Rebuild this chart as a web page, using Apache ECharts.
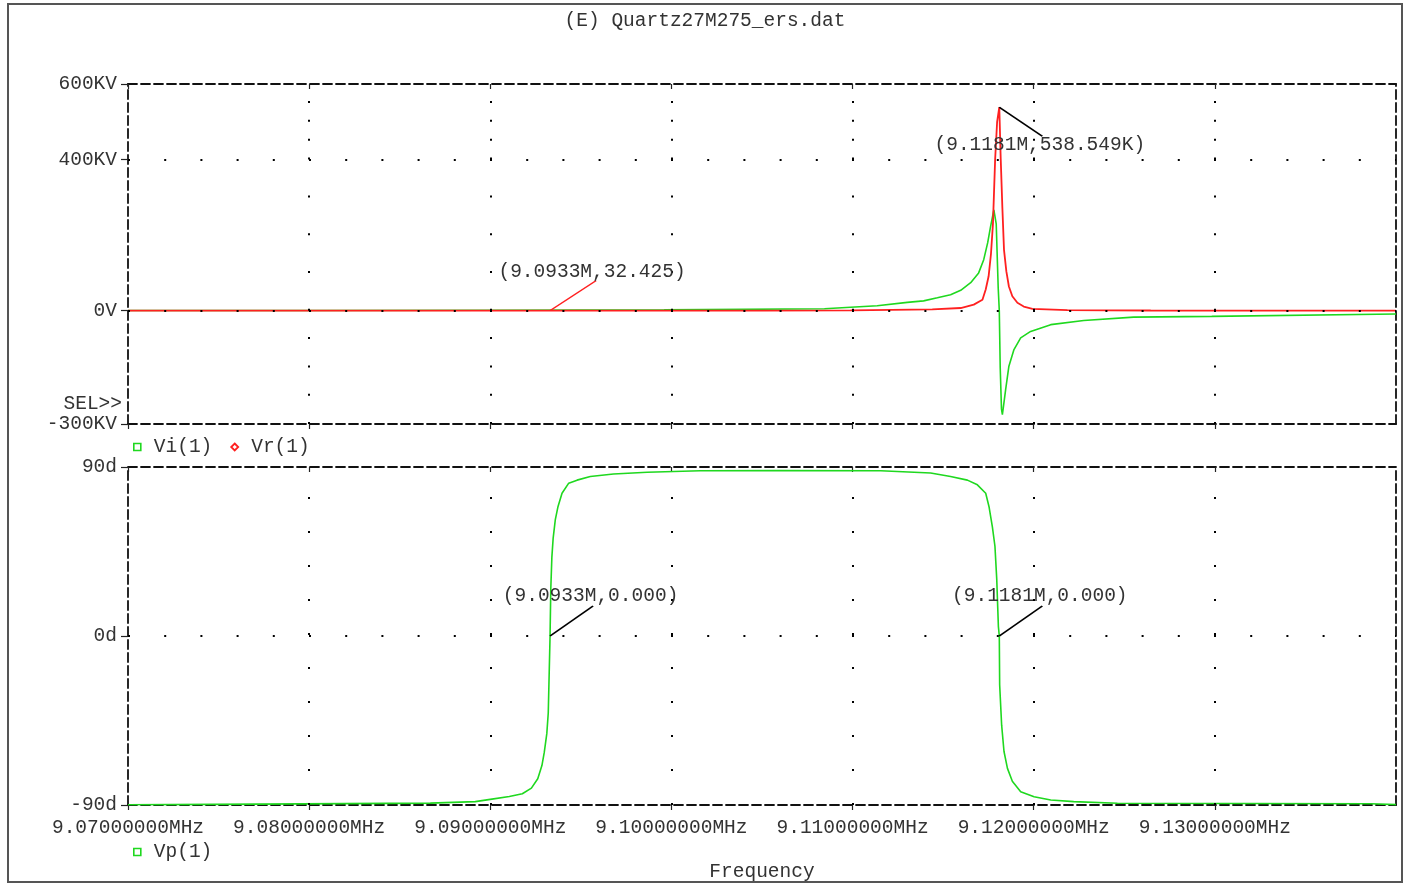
<!DOCTYPE html>
<html>
<head>
<meta charset="utf-8">
<script src="https://cdn.jsdelivr.net/npm/echarts@6/dist/echarts.min.js"></script>
<style>html,body{margin:0;padding:0;background:#fff}#c{width:1410px;height:883px}</style>
</head>
<body>
<div id="c"></div>
<script>
// ---------- data (frequency in MHz) ----------
const viFreq = [9.07000, 9.08000, 9.09000, 9.09960, 9.09967, 9.10845, 9.10856, 9.10989, 9.11136, 9.11302, 9.11392, 9.11468, 9.11541, 9.11597, 9.11652, 9.11696, 9.11724, 9.11746, 9.11762, 9.11780, 9.11793, 9.11804, 9.11810, 9.11815, 9.11822, 9.11827, 9.11834, 9.11845, 9.11863, 9.11891, 9.11928, 9.11983, 9.12094, 9.12276, 9.12552, 9.12983, 9.12989, 9.14000];
const viVolt = [300, 600, 1200, 2000, 4500, 5000, 7500, 9000, 13000, 22000, 26000, 34000, 42000, 54000, 74000, 100000, 135000, 180000, 223000, 267000, 230000, 60000, 0, -150000, -260000, -275000, -250000, -209000, -147000, -103000, -72000, -55000, -37000, -26000, -17000, -15000, -10000, -9000];

const vrFreq = [9.07000, 9.08000, 9.09000, 9.09330, 9.10000, 9.10500, 9.10989, 9.11440, 9.11597, 9.11669, 9.11717, 9.11735, 9.11751, 9.11764, 9.11775, 9.11787, 9.11798, 9.11810, 9.11818, 9.11827, 9.11836, 9.11849, 9.11863, 9.11882, 9.11910, 9.11945, 9.11993, 9.12186, 9.12646, 9.14000];
const vrVolt = [0, 5, 15, 32.425, 120, 300, 800, 3500, 7000, 16000, 29000, 56000, 91000, 150000, 230000, 400000, 500000, 538549, 400000, 272000, 161000, 104000, 64000, 38000, 21000, 11000, 4500, 1500, 500, 200];

const vpFreq = [9.07000, 9.07243, 9.07254, 9.08669, 9.08917, 9.09000, 9.09105, 9.09177, 9.09227, 9.09262, 9.09285, 9.09298, 9.09312, 9.09320, 9.09330, 9.09334, 9.09340, 9.09347, 9.09359, 9.09374, 9.09396, 9.09433, 9.09479, 9.09552, 9.09680, 9.09866, 9.10160, 9.10602, 9.11155, 9.11431, 9.11541, 9.11634, 9.11689, 9.11735, 9.11753, 9.11772, 9.11786, 9.11796, 9.11805, 9.11810, 9.11812, 9.11823, 9.11836, 9.11855, 9.11882, 9.11928, 9.12002, 9.12094, 9.12221, 9.12462, 9.13862, 9.13873, 9.14000];
const vpDeg = [-89.9, -89.8, -89.3, -89.0, -88.2, -87.0, -85.5, -84.0, -81.0, -76.0, -69.0, -62.0, -52.0, -41.0, 0, 25, 42, 52, 62, 69, 76, 81.4, 83, 84.9, 86.3, 87.2, 88.0, 88.1, 88.0, 86.8, 84.9, 83, 80.5, 76, 69, 58, 47.8, 30, 5, 0, -26, -47.5, -61.5, -70.5, -77.4, -82.9, -85.6, -87.3, -88.2, -89.1, -89.3, -89.8, -89.8];

// axis ticks / grid
const xTicks = [9.07, 9.08, 9.09, 9.10, 9.11, 9.12, 9.13];
const xGrid = [9.08, 9.09, 9.10, 9.11, 9.12, 9.13];
const vTicks = [-300000, 0, 400000, 600000];
const vGrid = [0, 400000];
const pTicks = [-90, 0, 90];
const pGrid = [0];

// cursor marks
const cursorTopF = [9.1181, 9.0933];
const cursorTopV = [538549, 32.425];
const cursorTopText = ['(9.1181M,538.549K)', '(9.0933M,32.425)'];
const cursorBotF = [9.0933, 9.1181];
const cursorBotV = [0, 0];
const cursorBotText = ['(9.0933M,0.000)', '(9.1181M,0.000)'];

const titleText = '(E) Quartz27M275_ers.dat';

// ---------- styling ----------
const FONT = '"Liberation Mono", "DejaVu Sans Mono", monospace';
const FS = 19.5;
const TXT = '#333';
const GREEN = '#1fd81f';
const RED = '#ff2020';
const dashed = { color: '#111', width: 1.8, type: [9, 4] };
const zip = (a, b) => a.map((v, i) => [v, b[i]]);

const topVDash = [2, 26.3, 2, 26.3, 2, 26.3, 2, 26.3, 2, 35.8, 2, 35.8, 2, 35.8, 2, 35.8, 2, 16.9, 2, 16.9, 2, 16.9, 2, 16.9];
const dotStyle = (type) => ({ color: '#000', width: 2, type: type, cap: 'butt' });

function xAx(gi, pos, labels) {
  return {
    type: 'value', gridIndex: gi, position: pos, min: 9.07, max: 9.14, interval: 0.01,
    axisLine: { show: true, onZero: false, lineStyle: dashed },
    axisTick: { show: true, length: 5, inside: pos === 'top', customValues: xTicks, lineStyle: { color: '#222', width: 1.2 } },
    axisLabel: labels ? {
      show: true, customValues: xTicks, margin: 13,
      formatter: v => v.toFixed(8) + 'MHz',
      fontFamily: FONT, fontSize: FS, color: TXT
    } : { show: false },
    splitLine: { show: false },
    name: labels ? 'Frequency' : '', nameLocation: 'middle', nameGap: 57,
    nameTextStyle: { fontFamily: FONT, fontSize: FS, color: TXT }
  };
}
function yAx(gi, pos, min, max, ticks, fmt) {
  return {
    type: 'value', gridIndex: gi, position: pos, min: min, max: max,
    axisLine: { show: true, onZero: false, lineStyle: dashed },
    axisTick: { show: !!fmt, length: 7, customValues: ticks, lineStyle: { color: '#222', width: 1.2 } },
    axisLabel: fmt ? { show: true, customValues: ticks, margin: 11, formatter: fmt, fontFamily: FONT, fontSize: FS, color: TXT } : { show: false },
    splitLine: { show: false }
  };
}

const vFmt = v => (v === 0 ? '0V' : (v / 1000) + 'KV');
const pFmt = v => v + 'd';

const markLabel = { show: true, position: 'inside', formatter: '{b}', fontFamily: FONT, fontSize: FS, color: TXT };

const topMarks = cursorTopF.map((f, i) => {
  const down = i === 0;
  return {
    coord: [f, cursorTopV[i]], name: cursorTopText[i],
    symbol: down ? 'path://M0,0L43,29' : 'path://M0,30L46,0',
    symbolSize: down ? [43, 29] : [46, 30],
    symbolOffset: down ? [21.5, 14.5] : [23, -15],
    itemStyle: { color: 'transparent', borderColor: down ? '#000' : RED, borderWidth: 1.6 },
    label: Object.assign({}, markLabel, { offset: down ? [19, 23] : [19, -24] })
  };
});
const botMarks = cursorBotF.map((f, i) => ({
  coord: [f, cursorBotV[i]], name: cursorBotText[i],
  symbol: 'path://M0,30L43,0', symbolSize: [43, 30], symbolOffset: [21.5, -15],
  itemStyle: { color: 'transparent', borderColor: '#000', borderWidth: 1.6 },
  label: Object.assign({}, markLabel, { offset: [19, -25] })
}));

const legendText = { fontFamily: FONT, fontSize: FS, color: TXT, rich: { g: { width: 8 } } };

const chart = echarts.init(document.getElementById('c'), null, { renderer: 'canvas' });
chart.setOption({
  animation: false,
  backgroundColor: '#fff',
  title: {
    text: titleText, left: 'center', top: 6,
    textStyle: { fontFamily: FONT, fontSize: FS, fontWeight: 'normal', color: TXT }
  },
  graphic: [
    { type: 'rect', shape: { x: 8, y: 4, width: 1394, height: 878 }, style: { fill: 'none', stroke: '#555', lineWidth: 2 }, silent: true },
    { type: 'text', style: { text: 'SEL>>', x: 122, y: 404, align: 'right', verticalAlign: 'middle', fontFamily: FONT, fontSize: FS, fill: TXT }, silent: true }
  ],
  legend: [
    {
      left: 128, top: 432, itemWidth: 7, itemHeight: 7, itemGap: 18,
      formatter: n => '{g|}' + n,
      textStyle: legendText,
      data: [
        { name: 'Vi(1)', icon: 'rect', itemStyle: { color: '#fff', borderColor: GREEN, borderWidth: 1.6 } },
        { name: 'Vr(1)', icon: 'diamond', itemStyle: { color: '#fff', borderColor: RED, borderWidth: 1.8 } }
      ]
    },
    {
      left: 128, top: 837, itemWidth: 7, itemHeight: 7,
      formatter: n => '{g|}' + n,
      textStyle: legendText,
      data: [{ name: 'Vp(1)', icon: 'rect', itemStyle: { color: '#fff', borderColor: GREEN, borderWidth: 1.6 } }]
    }
  ],
  grid: [
    { left: 128, top: 84, width: 1268, height: 340 },
    { left: 128, top: 467, width: 1268, height: 340 }
  ],
  xAxis: [xAx(0, 'bottom', false), xAx(0, 'top', false), xAx(1, 'bottom', true), xAx(1, 'top', false)],
  yAxis: [
    yAx(0, 'left', -300000, 600000, vTicks, vFmt), yAx(0, 'right', -300000, 600000, vTicks, null),
    yAx(1, 'left', -90, 90, pTicks, pFmt), yAx(1, 'right', -90, 90, pTicks, null)
  ],
  series: [
    {
      name: 'Vi(1)', type: 'line', xAxisIndex: 0, yAxisIndex: 0, data: zip(viFreq, viVolt),
      showSymbol: false, symbol: 'none', lineStyle: { color: GREEN, width: 1.6 }, itemStyle: { color: GREEN },
      z: 2,
      markLine: {
        silent: true, symbol: ['none', 'none'], label: { show: false }, animation: false,
        emphasis: { disabled: true },
        data: xGrid.map(v => ({ xAxis: v, lineStyle: dotStyle(topVDash) }))
          .concat(vGrid.map(v => ({ yAxis: v, lineStyle: dotStyle([2, 34.2]) })))
      }
    },
    {
      name: 'Vr(1)', type: 'line', xAxisIndex: 0, yAxisIndex: 0, data: zip(vrFreq, vrVolt),
      showSymbol: false, symbol: 'none', lineStyle: { color: RED, width: 1.8 }, itemStyle: { color: RED },
      z: 3,
      markPoint: { silent: true, animation: false, data: topMarks }
    },
    {
      name: 'Vp(1)', type: 'line', xAxisIndex: 2, yAxisIndex: 2, data: zip(vpFreq, vpDeg),
      showSymbol: false, symbol: 'none', lineStyle: { color: GREEN, width: 1.6 }, itemStyle: { color: GREEN },
      z: 3,
      markLine: {
        silent: true, symbol: ['none', 'none'], label: { show: false }, animation: false,
        emphasis: { disabled: true },
        data: xGrid.map(v => ({ xAxis: v, lineStyle: dotStyle([2, 32]) }))
          .concat(pGrid.map(v => ({ yAxis: v, lineStyle: dotStyle([2, 34.2]) })))
      },
      markPoint: { silent: true, animation: false, data: botMarks }
    }
  ]
});
</script>
</body>
</html>
